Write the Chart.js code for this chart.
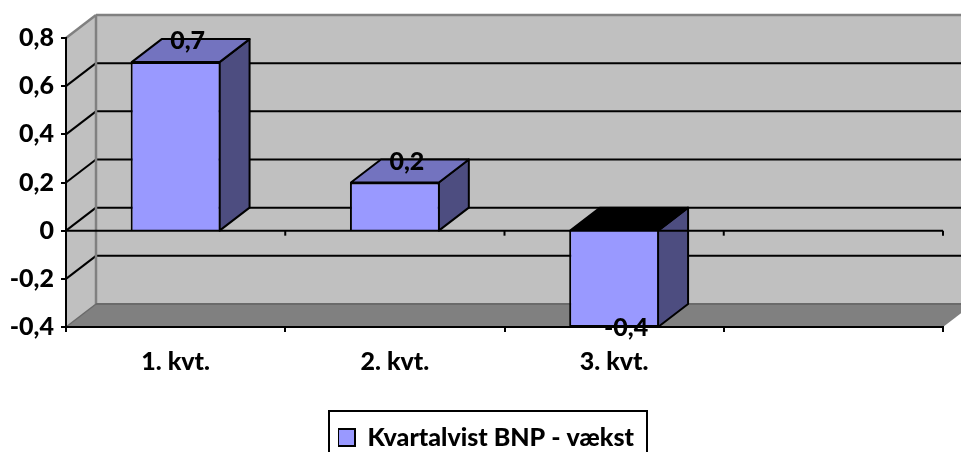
<!DOCTYPE html>
<html><head><meta charset="utf-8">
<style>html,body{margin:0;padding:0;background:#fff;overflow:hidden}canvas{display:block}</style>
<script src="https://cdn.jsdelivr.net/npm/chart.js@4"></script>
</head><body><canvas id="c" width="961" height="452"></canvas>
<script>
const categories = ['1. kvt.', '2. kvt.', '3. kvt.', ''];
const seriesName = 'Kvartalvist BNP - vækst';
const seriesValues = [0.7, 0.2, -0.4, null];
const valueLabels = ['0,7', '0,2', '-0,4', ''];

const FONT = 'Lato, Carlito, sans-serif';
const WEIGHT = '900';
const DX = 30, DY = 23;
const fmt = v => Math.abs(v) < 1e-9 ? '0' : v.toFixed(1).replace('.', ',');

function poly(ctx, pts, fill, stroke, lw) {
  ctx.beginPath();
  pts.forEach((p, i) => i ? ctx.lineTo(p[0], p[1]) : ctx.moveTo(p[0], p[1]));
  ctx.closePath();
  if (fill) { ctx.fillStyle = fill; ctx.fill(); }
  if (stroke) { ctx.strokeStyle = stroke; ctx.lineWidth = lw; ctx.lineJoin = 'round'; ctx.stroke(); }
}
function line(ctx, x1, y1, x2, y2, color, lw) {
  ctx.beginPath(); ctx.moveTo(x1, y1); ctx.lineTo(x2, y2);
  ctx.strokeStyle = color; ctx.lineWidth = lw; ctx.stroke();
}

const box3d = {
  id: 'box3d',
  afterLayout(chart) {
    const l = chart.legend;
    l.left = 338; l.right = 650; l.width = 312;
    l.top = 425; l.bottom = 452; l.height = 27;
  },
  beforeDraw(chart) {
    const { ctx, chartArea: a, scales: { y } } = chart;
    const L = a.left, R = a.right, T = a.top, B = a.bottom;
    ctx.save();
    poly(ctx, [[L + DX, T - DY], [R + DX, T - DY], [R + DX, B - DY], [L + DX, B - DY]], '#c0c0c0');
    poly(ctx, [[L, T], [L + DX, T - DY], [L + DX, B - DY], [L, B]], '#c0c0c0');
    poly(ctx, [[L, B], [L + DX, B - DY], [R + DX, B - DY], [R, B]], '#808080');
    y.ticks.forEach(t => {
      const py = y.getPixelForValue(t.value);
      if (py <= T + 0.5 || py >= B - 0.5) return;
      line(ctx, L, py, L + DX, py - DY, '#000', 2);
      line(ctx, L + DX, py - DY, R + DX, py - DY, '#000', 2);
    });
    line(ctx, L, T, L + DX, T - DY, '#808080', 2.5);
    line(ctx, L + DX, T - DY, R + DX, T - DY, '#808080', 2.5);
    line(ctx, L + DX, T - DY, L + DX, B - DY, '#808080', 2.5);
    line(ctx, L + DX, B - DY, R + DX, B - DY, '#6a6a6a', 2);
    line(ctx, L, B, L + DX, B - DY, '#6a6a6a', 1.5);
    ctx.restore();
  },
  beforeDatasetsDraw(chart) {
    const { ctx } = chart;
    ctx.save();
    chart.getDatasetMeta(0).data.forEach((bar, i) => {
      const v = seriesValues[i];
      if (v === null) return;
      const hw = bar.width / 2 - 1;
      const x1 = bar.x - hw, x2 = bar.x + hw;
      const top = Math.min(bar.y, bar.base), bot = Math.max(bar.y, bar.base);
      poly(ctx, [[x2, top], [x2 + DX, top - DY], [x2 + DX, bot - DY], [x2, bot]], '#4d4d80', '#000', 2);
      poly(ctx, [[x1, top], [x1 + DX, top - DY], [x2 + DX, top - DY], [x2, top]], v < 0 ? '#000' : '#7373bf', '#000', 2);
    });
    ctx.restore();
  },
  afterDraw(chart) {
    const { ctx, chartArea: a, scales: { y } } = chart;
    ctx.save();
    const zero = y.getPixelForValue(0);
    line(ctx, a.left, zero, a.right, zero, '#000', 2);
    for (let i = 1; i <= categories.length; i++) {
      const tx = a.left + (a.right - a.left) * i / categories.length;
      line(ctx, tx, zero, tx, zero + 5, '#000', 2);
    }
    ctx.fillStyle = '#000';
    ctx.font = WEIGHT + ' 25px ' + FONT;
    ctx.textAlign = 'center';
    ctx.textBaseline = 'middle';
    chart.getDatasetMeta(0).data.forEach((bar, i) => {
      const v = seriesValues[i];
      if (v === null) return;
      ctx.fillText(valueLabels[i], bar.x + 12, bar.y + (v < 0 ? 1 : -21));
    });
    ctx.strokeStyle = '#000';
    ctx.lineWidth = 2;
    ctx.strokeRect(329, 411, 318, 60);
    ctx.restore();
  }
};

new Chart(document.getElementById('c'), {
  type: 'bar',
  data: {
    labels: categories,
    datasets: [{
      label: seriesName,
      data: seriesValues,
      backgroundColor: '#9999ff',
      borderColor: '#000',
      borderWidth: 2,
      categoryPercentage: 1,
      barPercentage: 0.41
    }]
  },
  options: {
    responsive: false,
    animation: false,
    devicePixelRatio: 1,
    layout: { padding: { left: 0, right: 18, top: 38, bottom: 0 } },
    plugins: {
      tooltip: { enabled: false },
      title: { display: false },
      legend: {
        position: 'chartArea',
        align: 'start',
        labels: {
          boxWidth: 17, boxHeight: 17, padding: 0, color: '#000',
          font: { family: FONT, size: 25, weight: WEIGHT }
        }
      }
    },
    scales: {
      x: {
        afterFit(s) { s.height = 125; },
        grid: { drawOnChartArea: false, drawTicks: true, tickLength: 5, color: '#000', lineWidth: 2 },
        border: { color: '#000', width: 2 },
        ticks: { color: '#000', padding: 15, maxRotation: 0, autoSkip: false, font: { family: FONT, size: 25, weight: WEIGHT } }
      },
      y: {
        min: -0.4, max: 0.8,
        afterFit(s) { s.width = 66; },
        grid: { drawOnChartArea: false, drawTicks: true, tickLength: 5, color: '#000', lineWidth: 2 },
        border: { color: '#000', width: 2 },
        ticks: { stepSize: 0.2, color: '#000', padding: 7, callback: v => fmt(v), font: { family: FONT, size: 25, weight: WEIGHT } }
      }
    }
  },
  plugins: [box3d]
});
</script></body></html>
